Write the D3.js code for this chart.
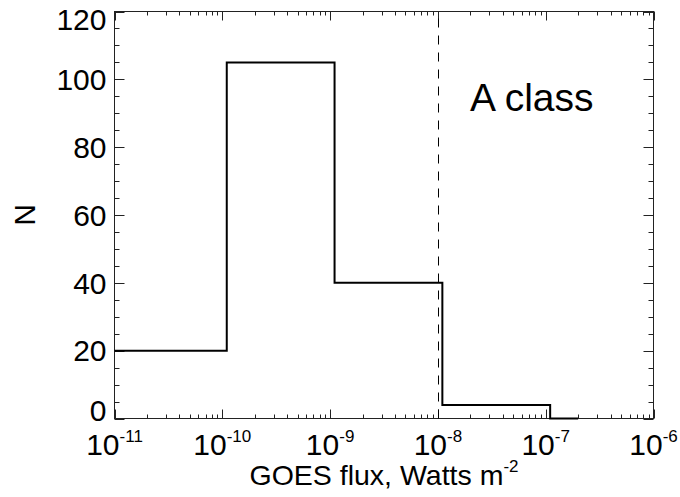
<!DOCTYPE html>
<html>
<head>
<meta charset="utf-8">
<script src="https://cdn.jsdelivr.net/npm/d3@7"></script>
<style>
  html, body { margin: 0; padding: 0; background: #fff; }
  svg { display: block; font-family: "Liberation Sans", Arial, Helvetica, sans-serif; }
</style>
</head>
<body>
<svg id="chart" width="680" height="497"></svg>
<script>
// ---- data ----
const binEdges = [1e-11, 1.1e-10, 1.1e-9, 1.1e-8, 1.1e-7, 2e-7];
const counts = [20, 105, 40, 4, 0];
const xDomain = [1e-11, 1e-6];
const yDomain = [0, 120];
const yMajorTicks = [0, 20, 40, 60, 80, 100, 120];
const xMajorExps = [-11, -10, -9, -8, -7, -6];
const thresholdFlux = [1e-8];
const annotation = ["A class"];
const xTitle = ["GOES flux, Watts m", "-2"];
const yTitle = ["N"];

// ---- layout ----
const L = 114.5, R = 653.5, T = 11.5, B = 418.5;
const svg = d3.select("#chart");
const x = d3.scaleLog().domain(xDomain).range([L, R]);
const y = d3.scaleLinear().domain(yDomain).range([B, T]);

const axisColor = "#222";
const g = svg.append("g");

// frame
g.append("rect").attr("x", L).attr("y", T).attr("width", R - L).attr("height", B - T)
  .attr("fill", "none").attr("stroke", axisColor).attr("stroke-width", 1);

// x ticks (bottom + top)
x.ticks().forEach(v => {
  const e = Math.log10(v);
  const major = Math.abs(e - Math.round(e)) < 1e-9;
  const len = major ? 9 : 4;
  const px = Math.round(x(v)) + 0.5;
  g.append("line").attr("x1", px).attr("x2", px).attr("y1", B).attr("y2", B - len)
    .attr("stroke", axisColor).attr("stroke-width", 1);
  g.append("line").attr("x1", px).attr("x2", px).attr("y1", T).attr("y2", T + len)
    .attr("stroke", axisColor).attr("stroke-width", 1);
});

// y ticks (left + right)
y.ticks(24).forEach(v => {
  const major = yMajorTicks.includes(v);
  const len = major ? 10 : 5;
  const py = Math.round(y(v)) + 0.5;
  g.append("line").attr("x1", L).attr("x2", L + len).attr("y1", py).attr("y2", py)
    .attr("stroke", axisColor).attr("stroke-width", 1);
  g.append("line").attr("x1", R).attr("x2", R - len).attr("y1", py).attr("y2", py)
    .attr("stroke", axisColor).attr("stroke-width", 1);
});

// y tick labels (end labels pulled inward)
const [y0, y1] = yDomain;
yMajorTicks.forEach(v => {
  const shift = v === y0 ? -8 : (v === y1 ? 8 : 0);
  g.append("text")
    .attr("x", L - 8)
    .attr("y", y(v) + shift)
    .attr("dy", "0.36em")
    .attr("text-anchor", "end")
    .attr("font-size", 30)
    .attr("fill", "#000")
    .text(v);
});

// x tick labels
xMajorExps.forEach(e => {
  const t = g.append("text")
    .attr("x", x(Math.pow(10, e)))
    .attr("y", 455)
    .attr("text-anchor", "middle")
    .attr("fill", "#000");
  t.append("tspan").attr("font-size", 30).text("10");
  t.append("tspan").attr("font-size", 17).attr("dy", -13).text(String(e));
});

// axis titles
const xt2 = g.append("text").attr("x", (L + R) / 2).attr("y", 485)
  .attr("text-anchor", "middle").attr("fill", "#000");
xt2.append("tspan").attr("font-size", 28.5).text(xTitle[0]);
xt2.append("tspan").attr("font-size", 17).attr("dy", -13).text(xTitle[1]);

g.append("text")
  .attr("transform", `translate(35, 215) rotate(-90)`)
  .attr("text-anchor", "middle")
  .attr("font-size", 30)
  .attr("fill", "#000")
  .text(yTitle[0]);

// dashed threshold line
thresholdFlux.forEach(f => {
  const px = Math.round(x(f)) + 0.5;
  g.append("line").attr("x1", px).attr("x2", px).attr("y1", B).attr("y2", T)
    .attr("stroke", "#000").attr("stroke-width", 1).attr("stroke-dasharray", "9,8");
});

// histogram step line
const pts = binEdges.map((e, i) => [e, counts[Math.min(i, counts.length - 1)]]);
const line = d3.line().x(d => x(d[0])).y(d => y(d[1])).curve(d3.curveStepAfter);
g.append("path").attr("d", line(pts)).attr("fill", "none")
  .attr("stroke", "#000").attr("stroke-width", 2);

// annotation
g.append("text").attr("x", 470).attr("y", 111).attr("font-size", 39).attr("fill", "#000")
  .text(annotation[0]);
</script>
</body>
</html>
